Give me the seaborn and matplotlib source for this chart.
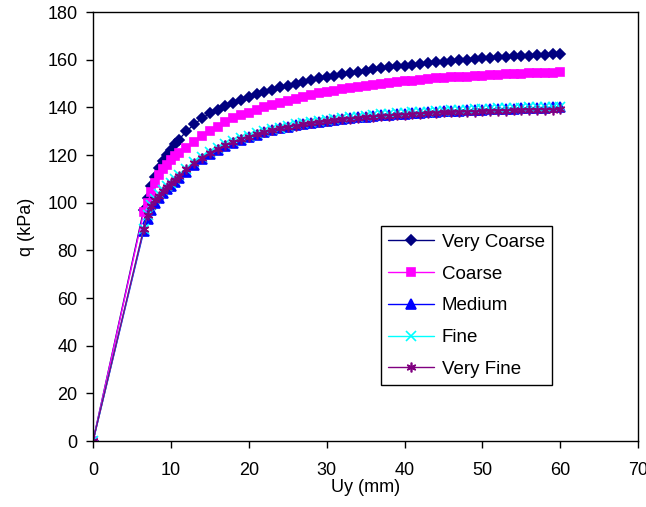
import matplotlib
matplotlib.use("Agg")
import matplotlib.pyplot as plt
import seaborn as sns
import pandas as pd

# data
uy = [0, 6.5, 7, 7.5, 8, 8.5, 9, 9.5, 10, 10.5, 11, 12, 13, 14, 15, 16, 17, 18, 19, 20,
      21, 22, 23, 24, 25, 26, 27, 28, 29, 30, 31, 32, 33, 34, 35, 36, 37, 38, 39, 40,
      41, 42, 43, 44, 45, 46, 47, 48, 49, 50, 51, 52, 53, 54, 55, 56, 57, 58, 59, 60]

very_coarse = [0, 97, 102, 107, 111, 114.5, 117.5, 120, 122, 124.5, 126.5, 130, 133, 135.5, 137.5, 139, 140.5, 142, 143.3, 144.5,
               145.6, 146.6, 147.5, 148.4, 149.2, 150, 150.8, 151.5, 152.2, 152.8, 153.4, 154, 154.5, 155, 155.5, 156, 156.4, 156.8, 157.2, 157.6,
               158, 158.3, 158.6, 158.9, 159.2, 159.5, 159.8, 160.1, 160.4, 160.6, 160.8, 161, 161.2, 161.4, 161.6, 161.8, 162, 162.2, 162.3, 162.4]

coarse = [0, 96, 100, 104.5, 108.5, 111.5, 114, 116, 118, 119.5, 121, 123, 125.5, 128, 130, 132, 133.8, 135.5, 136.7, 137.8,
          139, 140, 141, 142, 142.8, 143.6, 144.4, 145.2, 145.9, 146.5, 147.1, 147.7, 148.2, 148.7, 149.2, 149.6, 150, 150.4, 150.7, 151,
          151.3, 151.6, 151.9, 152.2, 152.4, 152.6, 152.8, 153, 153.2, 153.4, 153.6, 153.8, 154, 154.1, 154.2, 154.3, 154.4, 154.5, 154.6, 154.7]

medium = [0, 88, 93, 97, 100, 102, 104, 105.7, 107.2, 108.7, 110.2, 113, 115.8, 118.2, 120.3, 122.1, 123.7, 125.1, 126.4, 127.5,
          128.6, 129.6, 130.5, 131.3, 132, 132.6, 133.1, 133.6, 134.1, 134.5, 134.9, 135.3, 135.6, 135.9, 136.2, 136.5, 136.8, 137, 137.2, 137.4,
          137.6, 137.8, 138, 138.2, 138.4, 138.6, 138.7, 138.9, 139, 139.1, 139.2, 139.3, 139.4, 139.5, 139.6, 139.7, 139.8, 139.9, 140, 140.1]

fine = [0, 89, 95, 99, 101.5, 103.5, 105.3, 107, 108.5, 110, 111.5, 114.3, 117, 119.3, 121.3, 123, 124.5, 125.8, 127, 128.2,
        129.2, 130.1, 130.9, 131.6, 132.3, 132.9, 133.4, 133.9, 134.4, 134.8, 135.2, 135.6, 135.9, 136.2, 136.5, 136.8, 137.1, 137.3, 137.5, 137.7,
        137.9, 138.1, 138.3, 138.5, 138.7, 138.8, 139, 139.1, 139.2, 139.4, 139.5, 139.6, 139.7, 139.8, 139.9, 140, 140.1, 140.2, 140.3, 140.4]

very_fine = [0, 89, 95, 98.5, 101, 103, 105, 106.7, 108.2, 109.7, 111.2, 114, 116.7, 119, 121, 122.7, 124.2, 125.5, 126.7, 127.8,
             128.8, 129.7, 130.5, 131.2, 131.8, 132.4, 132.9, 133.4, 133.8, 134.2, 134.6, 135, 135.3, 135.6, 135.9, 136.2, 136.4, 136.6, 136.8, 137,
             137.2, 137.4, 137.6, 137.7, 137.9, 138, 138.1, 138.2, 138.3, 138.4, 138.5, 138.6, 138.7, 138.8, 138.9, 139, 139, 139.1, 139.1, 139.2]

names = ["Very Coarse", "Coarse", "Medium", "Fine", "Very Fine"]
colors = ["#000080", "#FF00FF", "#0000FF", "#00FFFF", "#800080"]
markers = ["D", "s", "^", "x", (6, 2, 0)]
sizes = [5, 5.5, 6.5, 6.5, 7]

series = [very_coarse, coarse, medium, fine, very_fine]

sns.set_style("ticks")
plt.rcParams['font.family'] = ['Liberation Sans', 'DejaVu Sans']
plt.rcParams['text.color'] = 'black'
plt.rcParams['axes.labelcolor'] = 'black'

fig = plt.figure(figsize=(6.46, 5.07), dpi=100)
ax = fig.add_axes([0.144, 0.130, 0.844, 0.846])

for name, vals, c, m, s in zip(names, series, colors, markers, sizes):
    df = pd.DataFrame({"Uy": uy, "q": vals})
    sns.lineplot(data=df, x="Uy", y="q", color=c, marker=m, markersize=s,
                 markeredgecolor=c, markerfacecolor=c, markeredgewidth=1.2,
                 linewidth=1, label=name, ax=ax)

ax.set_xlim(0, 70)
ax.set_ylim(0, 180)
ax.set_xticks(range(0, 71, 10))
ax.set_yticks(range(0, 181, 20))
ax.tick_params(direction="out", length=5, width=1, labelsize=13, colors="black")
ax.tick_params(axis="x", pad=10)
ax.tick_params(axis="y", pad=6)
for sp in ax.spines.values():
    sp.set_visible(True)
    sp.set_color("black")
    sp.set_linewidth(1)
ax.set_xlabel("Uy (mm)", fontsize=13, labelpad=0)
ax.set_ylabel("q (kPa)", fontsize=13, labelpad=9)

leg = ax.legend(loc="upper left", bbox_to_anchor=(0.528, 0.501), borderaxespad=0,
                fontsize=13.5, frameon=True, fancybox=False, framealpha=1,
                edgecolor="black", handlelength=2.45, labelspacing=0.78,
                borderpad=0.4, handletextpad=0.4)
leg.get_frame().set_linewidth(1)
for t in leg.get_texts():
    t.set_color("black")

fig.savefig("out.png", dpi=100)
